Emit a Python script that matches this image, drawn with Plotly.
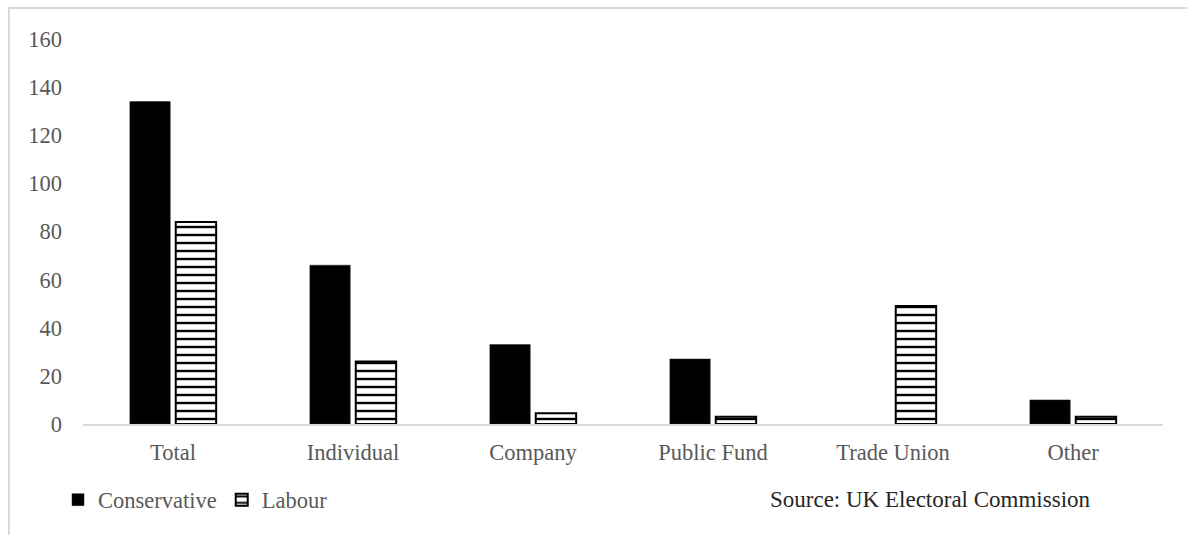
import plotly.graph_objects as go

categories = ["Total", "Individual", "Company", "Public Fund", "Trade Union", "Other"]
conservative = [134, 66, 33, 27, None, 10]
labour = [84, 26, 4.5, 3, 49, 3]
y_ticks = [0, 20, 40, 60, 80, 100, 120, 140, 160]
source_text = "Source: UK Electoral Commission"

FONT = "Liberation Serif, Times New Roman, serif"
FS = 22.5
W, H = 1187, 535
L, R, T, B = 83, 24, 39, 111
pw, ph = W - L - R, H - T - B

fig = go.Figure()
fig.add_trace(go.Bar(
    name="Conservative", x=categories, y=conservative,
    marker=dict(color="black", line=dict(color="#222222", width=0.5)),
))
fig.add_trace(go.Bar(
    name="Labour", x=categories, y=labour,
    marker=dict(color="white", line=dict(color="black", width=2),
                pattern=dict(shape="-", fgcolor="black", bgcolor="white",
                             size=8, solidity=0.3, fillmode="replace")),
))

def px_x(p):
    return (p - L) / pw

def px_y(p):
    return (H - B - p) / ph

fig.update_layout(
    width=W, height=H,
    margin=dict(l=L, r=R, t=T, b=B),
    paper_bgcolor="white", plot_bgcolor="white",
    barmode="group", bargap=0.49, bargroupgap=0.12,
    font=dict(family=FONT, size=FS, color="#595959"),
    showlegend=True,
    legend=dict(orientation="h", x=px_x(58), y=px_y(500), xanchor="left", yanchor="middle",
                font=dict(family=FONT, size=FS, color="#595959"),
                itemwidth=30, tracegroupgap=0, bgcolor="rgba(0,0,0,0)"),
    xaxis=dict(showgrid=False, showline=True, linecolor="#d9d9d9", linewidth=2,
               ticks="", ticklabelstandoff=7, zeroline=False,
               tickfont=dict(family=FONT, size=FS, color="#595959")),
    yaxis=dict(range=[0, 160], tickvals=y_ticks, showgrid=False, showline=False,
               zeroline=False, ticks="", ticklabelstandoff=20,
               tickfont=dict(family=FONT, size=FS, color="#595959")),
    shapes=[dict(type="rect", xref="paper", yref="paper",
                 x0=px_x(9), x1=px_x(1200), y0=px_y(560), y1=px_y(8),
                 line=dict(color="#d9d9d9", width=2), fillcolor="rgba(0,0,0,0)",
                 layer="below")],
    annotations=[dict(text=source_text, xref="paper", yref="paper",
                      x=px_x(768), y=px_y(499), xanchor="left", yanchor="middle",
                      showarrow=False,
                      font=dict(family=FONT, size=23, color="#262626"))],
)

fig.write_html("out.html")
